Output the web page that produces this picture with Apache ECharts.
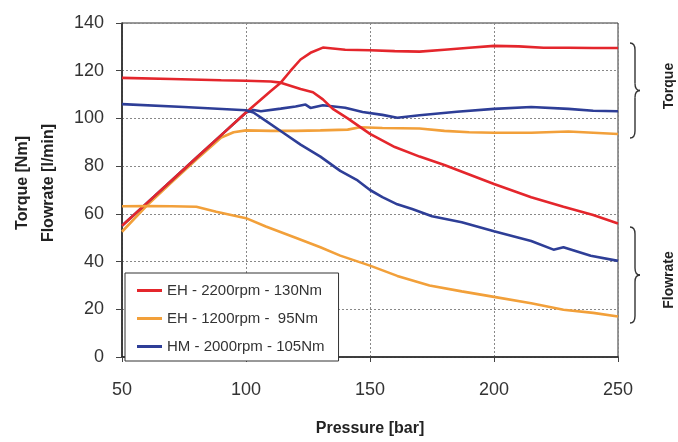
<!DOCTYPE html>
<html>
<head>
<meta charset="utf-8">
<script src="https://cdn.jsdelivr.net/npm/echarts@6/dist/echarts.min.js"></script>
<style>
  html, body { margin: 0; padding: 0; background: #fff; }
  #main { width: 678px; height: 442px; }
</style>
</head>
<body>
<div id="main"></div>
<script>
// legend names
var names = ['EH - 2200rpm - 130Nm', 'EH - 1200rpm -  95Nm', 'HM - 2000rpm - 105Nm'];

// EH 2200rpm - torque
var ehHighTorqueP = [50, 60, 70, 80, 90, 100, 110, 114, 118, 122, 126, 131, 135, 140, 150, 160, 170, 180, 190, 200, 210, 220, 230, 240, 250];
var ehHighTorqueV = [55, 64.5, 74, 83.5, 93, 102.5, 111.5, 115, 120, 124.7, 127.5, 129.7, 129.3, 128.8, 128.6, 128.2, 128, 128.8, 129.6, 130.4, 130.2, 129.6, 129.6, 129.5, 129.5];
// EH 2200rpm - flowrate
var ehHighFlowP = [50, 70, 90, 100, 110, 114, 122, 127, 131, 135, 141, 150, 160, 170, 180, 190, 200, 215, 228, 240, 250];
var ehHighFlowV = [117, 116.5, 116, 115.8, 115.5, 115, 112.3, 111, 108, 104, 100, 93.5, 88, 84, 80.5, 76.5, 72.5, 67, 63, 59.5, 56];

// EH 1200rpm - torque
var ehLowTorqueP = [50, 60, 70, 80, 90, 95, 100, 110, 120, 130, 141, 146, 155, 170, 180, 190, 200, 215, 230, 240, 250];
var ehLowTorqueV = [52.5, 63.5, 73.2, 82.8, 92, 94.2, 95, 94.8, 94.8, 95, 95.3, 96.3, 96, 95.8, 94.8, 94.2, 94, 94, 94.5, 94, 93.5];
// EH 1200rpm - flowrate
var ehLowFlowP = [50, 60, 70, 80, 88, 100, 108, 120, 130, 138, 150, 161, 174, 187, 200, 215, 228, 240, 250];
var ehLowFlowV = [63.2, 63.3, 63.2, 63, 60.9, 58.2, 54.7, 50, 46, 42.5, 38.3, 34, 30, 27.5, 25.2, 22.5, 19.8, 18.5, 17];

// HM 2000rpm - torque
var hmTorqueP = [50, 60, 70, 80, 90, 100, 103, 106, 114, 120, 124, 126, 131, 140, 147, 155, 161, 170, 185, 200, 215, 230, 240, 250];
var hmTorqueV = [55, 64.5, 74, 83.5, 93, 102.5, 103.5, 103, 104.1, 105, 105.8, 104.4, 105.5, 104.5, 102.7, 101.5, 100.3, 101.3, 102.8, 104, 104.8, 104, 103.2, 103];
// HM 2000rpm - flowrate
var hmFlowP = [50, 75, 100, 103, 108, 115, 122, 130, 138, 145, 150, 155, 161, 167, 175, 187, 200, 215, 224, 228, 239, 250];
var hmFlowV = [106, 104.8, 103.4, 102.5, 99, 94, 89, 84, 78, 74, 70, 67, 64, 62, 59, 56.5, 52.7, 48.6, 45, 46, 42.4, 40.3];

var colors = ['#e4262c', '#f2a03a', '#2e3e97'];

function pairs(p, v) {
    var out = [];
    for (var i = 0; i < p.length; i++) {
        out.push([p[i], v[i]]);
    }
    return out;
}

function line(idx, p, v) {
    return {
        type: 'line',
        name: names[idx],
        data: pairs(p, v),
        showSymbol: false,
        smooth: false,
        lineStyle: { width: 2.6, color: colors[idx] },
        itemStyle: { color: colors[idx] }
    };
}

// curly brace "}" made of curves and lines
function brace(x, y1, y2) {
    var m = (y1 + y2) / 2, s = { fill: null, stroke: '#333', lineWidth: 1.4 };
    var seg = function (a, b, c, d, cx, cy) {
        return { type: 'bezierCurve', shape: { x1: a, y1: b, x2: c, y2: d, cpx1: cx, cpy1: cy }, style: s };
    };
    var ln = function (a, b, c, d) {
        return { type: 'line', shape: { x1: a, y1: b, x2: c, y2: d }, style: s };
    };
    return [
        seg(x, y1, x + 5, y1 + 7, x + 5, y1),
        ln(x + 5, y1 + 7, x + 5, m - 7),
        seg(x + 5, m - 7, x + 10, m, x + 5, m),
        seg(x + 10, m, x + 5, m + 7, x + 5, m),
        ln(x + 5, m + 7, x + 5, y2 - 7),
        seg(x + 5, y2 - 7, x, y2, x + 5, y2)
    ];
}

var font = '"Liberation Sans", Arial, sans-serif';

var myChart = echarts.init(document.getElementById('main'));

var option = {
    animation: false,
    backgroundColor: '#fff',
    textStyle: { fontFamily: font },
    grid: {
        left: 122, right: 60, top: 23, bottom: 79,
        show: true,
        borderColor: '#333',
        borderWidth: 1
    },
    legend: {
        data: names,
        orient: 'vertical',
        left: 125,
        top: 273,
        icon: 'rect',
        itemWidth: 25,
        itemHeight: 3,
        itemGap: 13,
        padding: [10, 14, 7, 12],
        backgroundColor: '#fff',
        borderColor: '#333',
        borderWidth: 1,
        textStyle: { fontSize: 15, color: '#333', fontFamily: font }
    },
    xAxis: {
        type: 'value',
        min: 50,
        max: 250,
        interval: 50,
        name: 'Pressure [bar]',
        nameLocation: 'middle',
        nameGap: 64,
        nameTextStyle: { fontSize: 16, fontWeight: 'bold', color: '#222' },
        axisLine: { lineStyle: { color: '#222', width: 1.5 } },
        axisTick: { show: true, length: 5, lineStyle: { color: '#444' } },
        axisLabel: { fontSize: 18, color: '#333', margin: 24 },
        splitLine: { show: true, lineStyle: { color: '#888', type: [2, 2], width: 1 } }
    },
    yAxis: {
        type: 'value',
        min: 0,
        max: 140,
        interval: 20,
        name: 'Torque [Nm]\nFlowrate [l/min]',
        nameLocation: 'middle',
        nameRotate: 90,
        nameGap: 60,
        nameTextStyle: { fontSize: 16, fontWeight: 'bold', color: '#222', lineHeight: 26, padding: [0, 0, 0, 14] },
        axisLine: { show: true, lineStyle: { color: '#222', width: 1.5 } },
        axisTick: { show: true, length: 6, lineStyle: { color: '#444' } },
        axisLabel: { fontSize: 18, color: '#333', margin: 18 },
        splitLine: { show: true, lineStyle: { color: '#888', type: [2, 2], width: 1 } }
    },
    graphic: brace(630, 43, 138).concat(brace(630, 227, 323)).concat([
        {
            type: 'text',
            x: 669, y: 86,
            rotation: Math.PI / 2,
            style: {
                text: 'Torque', font: 'bold 14px ' + font, fill: '#222',
                textAlign: 'center', textVerticalAlign: 'middle'
            }
        },
        {
            type: 'text',
            x: 669, y: 280,
            rotation: Math.PI / 2,
            style: {
                text: 'Flowrate', font: 'bold 14px ' + font, fill: '#222',
                textAlign: 'center', textVerticalAlign: 'middle'
            }
        }
    ]),
    series: [
        line(1, ehLowTorqueP, ehLowTorqueV),
        line(2, hmTorqueP, hmTorqueV),
        line(0, ehHighTorqueP, ehHighTorqueV),
        line(0, ehHighFlowP, ehHighFlowV),
        line(1, ehLowFlowP, ehLowFlowV),
        line(2, hmFlowP, hmFlowV)
    ]
};
myChart.setOption(option);
</script>
</body>
</html>
